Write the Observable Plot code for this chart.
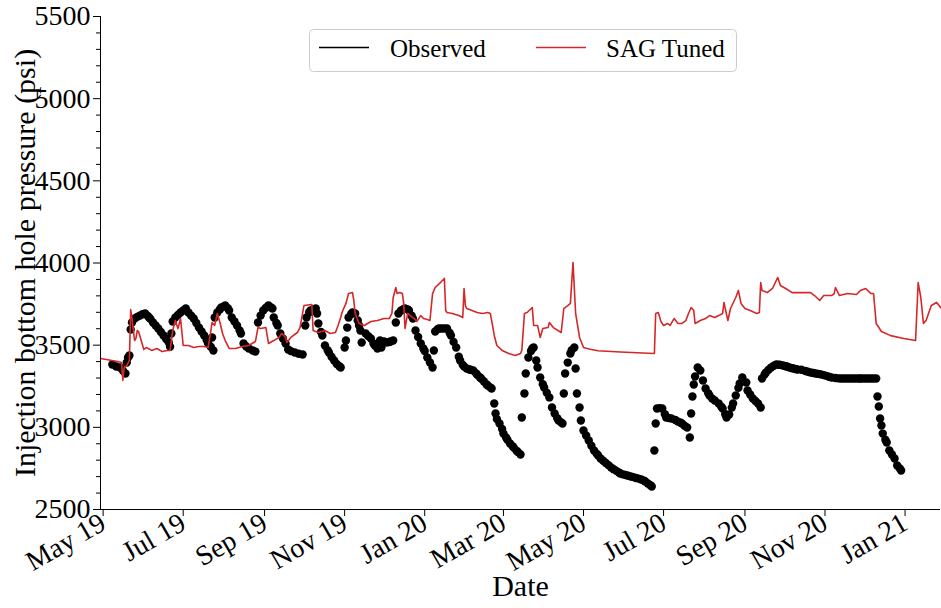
<!DOCTYPE html>
<html>
<head>
<meta charset="utf-8">
<script src="https://cdn.jsdelivr.net/npm/d3@7"></script>
<script src="https://cdn.jsdelivr.net/npm/@observablehq/plot@0.6"></script>
<style>
  body { margin: 0; background: #fff; }
  #chart { position: relative; width: 941px; height: 608px; font-family: "Liberation Serif", "Times New Roman", serif; }
  #legend { position: absolute; left: 309px; top: 29px; }
</style>
</head>
<body>
<div id="chart"></div>
<script>
// Days are counted from 1 May 2019; pressures in psi.
const day0 = Date.UTC(2019, 4, 1);

// Observed injection bottom hole pressure: [day, psi]
const observedReadings = [
  [7,3382],[10,3370],[13,3364],[15,3346],[17,3328],[18,3394],[19,3425],[20,3437],
  [21,3595],[22,3638],[24,3662],[26,3672],[28,3680],[30,3688],[32,3693],[34,3678],[35,3668],[36,3660],[38,3638],[40,3620],[42,3601],[44,3580],[46,3559],[48,3538],[50,3516],[51,3490],
  [52,3571],[53,3644],[55,3668],[57,3684],[59,3699],[61,3711],[63,3723],[65,3699],[67,3680],[69,3662],[71,3635],[73,3607],[75,3583],[77,3559],[79,3530],[80,3510],[82,3490],[83,3547],[84,3468],
  [85,3668],[87,3699],[89,3718],[90,3729],[92,3736],[93,3741],[95,3725],[96,3711],[98,3668],[100,3645],[102,3620],[104,3590],[105,3571],[107,3510],[109,3492],[111,3480],[114,3468],[116,3461],
  [118,3638],[120,3680],[122,3711],[124,3728],[126,3741],[128,3730],[129,3723],[130,3668],[132,3635],[133,3620],[135,3571],[137,3540],[139,3510],[141,3474],[143,3464],[146,3455],[149,3448],[152,3443],
  [154,3620],[155,3668],[157,3700],[158,3711],[160,3718],[162,3723],[163,3693],[164,3632],[166,3580],[167,3559],[169,3498],[171,3470],[172,3455],[174,3430],[176,3407],[178,3385],[180,3372],[181,3364],
  [184,3486],[185,3528],[186,3607],[187,3668],[189,3690],[190,3699],[192,3693],[194,3650],[195,3620],[196,3589],[197,3516],[200,3571],[202,3555],[204,3541],[206,3510],[207,3498],[209,3480],[211,3528],[212,3486],[214,3522],[216,3516],[218,3519],[219,3522],[221,3528],
  [223,3638],[225,3693],[227,3711],[229,3720],[230,3723],[232,3718],[233,3711],[235,3680],[236,3662],[238,3589],[240,3550],[242,3510],[244,3480],[245,3465],[247,3425],[249,3395],[251,3364],
  [252,3468],[253,3583],[255,3598],[256,3601],[258,3601],[260,3601],[262,3601],[264,3575],[265,3559],[267,3520],[269,3486],[271,3430],[272,3407],[274,3380],[275,3370],[277,3358],[279,3352],[280,3350],[282,3346],
  [284,3330],[285,3320],[287,3305],[288,3297],[290,3280],[292,3262],[293,3255],[295,3243],[296,3236],
  [298,3145],[299,3084],[300,3050],[302,3023],[304,2990],[305,2962],[307,2938],[308,2925],[310,2902],[312,2885],[313,2875],[315,2858],[316,2850],[318,2835],
  [319,3060],[321,3206],[322,3328],[324,3425],[326,3465],[327,3480],[328,3486],[330,3407],[331,3364],[333,3303],[335,3262],[336,3242],[338,3210],[340,3182],[342,3121],[344,3084],[346,3055],[347,3042],[349,3030],[350,3023],
  [351,3206],[352,3328],[354,3394],[356,3449],[357,3470],[359,3486],[360,3358],[361,3206],[363,3121],[364,3042],[366,2981],[368,2950],[370,2920],[372,2888],[374,2859],[376,2840],[377,2830],[379,2810],
  [381,2797],[383,2783],[385,2770],[387,2756],[389,2745],[391,2735],[393,2725],[394,2719],[396,2714],[398,2710],[400,2705],[402,2701],[404,2697],[406,2692],[408,2688],[410,2683],[412,2676],[413,2670],[415,2658],[417,2648],[418,2640],
  [420,2859],[421,3023],[422,3115],[424,3117],[426,3115],[428,3080],[429,3060],[431,3057],[433,3054],[436,3045],[438,3035],[440,3028],[441,3023],[443,3010],[445,2999],[447,2938],
  [448,3084],[449,3188],[450,3261],[451,3309],[453,3364],[455,3346],[457,3285],[459,3236],[461,3208],[462,3194],[464,3175],[466,3163],[469,3145],[471,3125],[472,3115],[474,3080],[475,3060],
  [477,3078],[479,3120],[480,3145],[482,3194],[484,3240],[485,3267],[487,3303],[490,3273],[491,3224],[493,3200],[495,3176],[497,3160],[499,3145],[501,3121],
  [502,3297],[504,3322],[505,3334],[507,3350],[509,3364],[511,3375],[513,3382],[515,3381],[516,3380],[518,3376],[520,3372],[521,3370],[523,3364],[525,3360],[526,3358],[528,3354],[529,3352],
  [532,3350],[535,3343],[537,3338],[539,3334],[541,3331],[543,3328],[545,3325],[547,3322],[549,3318],[551,3313],[553,3308],[555,3303],[558,3300],[560,3298],
  [562,3297],[564,3297],[566,3297],[568,3297],[570,3297],[572,3297],[574,3297],[576,3297],[577,3297],[579,3297],[581,3297],[583,3297],[585,3297],[587,3297],[589,3297],
  [590,3188],[591,3127],[592,3054],[593,3011],[594,2962],[596,2925],[597,2908],[599,2859],[601,2835],[603,2810],[605,2768],[607,2750],[608,2737]
];

// SAG tuned model response: [day, psi]
const sagTunedReadings = [
  [-2,3419],[11,3401],[14,3394],[15,3285],[16,3364],[18,3376],[20,3407],[21,3717],[22,3662],[24,3528],[25,3541],[26,3589],[27,3583],[29,3528],[31,3474],[33,3486],
  [37,3468],[41,3480],[45,3461],[49,3468],[51,3468],[53,3589],[55,3650],[57,3601],[59,3662],[61,3498],[65,3498],[69,3486],[73,3492],[77,3492],[80,3486],
  [82,3583],[83,3638],[85,3620],[87,3693],[89,3638],[91,3571],[93,3528],[96,3480],[101,3480],[106,3492],[111,3498],[116,3522],[118,3607],[120,3601],[124,3607],
  [126,3510],[130,3528],[134,3547],[136,3571],[139,3547],[140,3516],[143,3547],[148,3577],[150,3607],[153,3741],[159,3747],[160,3589],[164,3577],[169,3589],
  [173,3571],[177,3577],[179,3620],[181,3668],[182,3699],[185,3754],[187,3814],[190,3820],[191,3772],[192,3693],[195,3632],[199,3620],[204,3644],[209,3650],
  [214,3662],[218,3662],[220,3693],[221,3790],[223,3851],[224,3814],[226,3820],[228,3814],[229,3754],[230,3601],[232,3693],[234,3680],[237,3662],[239,3644],
  [242,3680],[244,3662],[247,3656],[249,3650],[251,3814],[253,3851],[257,3881],[260,3906],[261,3711],[262,3699],[266,3693],[271,3680],[274,3668],[275,3845],
  [276,3741],[277,3723],[281,3711],[285,3699],[289,3693],[293,3699],[295,3693],[297,3607],[298,3559],[300,3498],[304,3468],[309,3449],[314,3437],[318,3449],
  [319,3468],[321,3693],[323,3699],[327,3729],[328,3620],[331,3620],[333,3547],[335,3601],[339,3607],[340,3638],[343,3607],[349,3577],[351,3723],[354,3741],
  [356,3754],[358,4003],[360,3693],[363,3547],[366,3486],[371,3475],[377,3466],[394,3458],[420,3449],
  [421,3693],[423,3699],[425,3644],[427,3620],[430,3632],[432,3620],[435,3662],[438,3632],[441,3632],[444,3650],[446,3693],[448,3729],[450,3711],[451,3632],
  [455,3650],[459,3662],[462,3680],[466,3668],[469,3680],[472,3693],[473,3760],[476,3650],[478,3723],[482,3790],[484,3833],[486,3754],[489,3723],[493,3711],
  [498,3693],[500,3699],[501,3881],[502,3833],[506,3820],[510,3845],[514,3912],[516,3863],[520,3845],[525,3820],[532,3820],[539,3820],[542,3802],[546,3772],
  [549,3802],[555,3802],[557,3814],[558,3851],[561,3802],[567,3814],[574,3808],[577,3833],[581,3845],[585,3814],[587,3814],[589,3632],[593,3583],[600,3558],
  [610,3541],[619,3528],[621,3881],[623,3790],[625,3632],[627,3650],[631,3741],[635,3760],[637,3741],[638,3729]
];

// Axis ticks
const xTickDates = ["2019-05-01","2019-07-01","2019-09-01","2019-11-01","2020-01-01","2020-03-01","2020-05-01","2020-07-01","2020-09-01","2020-11-01","2021-01-01"];
const yTicks = [2500, 3000, 3500, 4000, 4500, 5000, 5500];
const yMinorTicks = d3.range(2600, 5500, 100).filter(v => v % 500 !== 0);

const toDate = d => new Date(day0 + d * 864e5);
const observed = observedReadings.map(([d, v]) => ({date: toDate(d), psi: v}));
const sagTuned = sagTunedReadings.map(([d, v]) => ({date: toDate(d), psi: v}));
const xDomain = [toDate(-2), toDate(638)];
const xTicks = xTickDates.map(s => new Date(s + "T00:00:00Z"));

const font = '"Liberation Serif", "Times New Roman", serif';

const chart = Plot.plot({
  width: 941,
  height: 608,
  marginLeft: 100,
  marginRight: 1,
  marginTop: 16,
  marginBottom: 99,
  style: {fontFamily: font, fontSize: "28px", color: "#000", background: "#fff", overflow: "visible"},
  x: {type: "utc", domain: xDomain},
  y: {domain: [2500, 5500]},
  marks: [
    Plot.dot(observed, {x: "date", y: "psi", r: 4.2, fill: "#000", stroke: "none"}),
    Plot.line(sagTuned, {x: "date", y: "psi", stroke: "#d62728", strokeWidth: 1.6}),
    Plot.ruleX([xDomain[0]], {stroke: "#000", strokeWidth: 1}),
    Plot.ruleY([2500], {stroke: "#000", strokeWidth: 1}),
    Plot.axisY(yMinorTicks, {tickSize: 4, text: null, label: null, stroke: "#000"}),
    Plot.axisY(yTicks, {tickSize: 7, tickPadding: 3, tickFormat: d => String(d), label: null, fontSize: 28, stroke: "#000"}),
    Plot.axisX(xTicks, {tickSize: 7, tickPadding: 4, tickRotate: -30, tickFormat: d3.utcFormat("%b %y"), label: null, fontSize: 28, stroke: "#000"}),
    Plot.text(["Injection bottom hole pressure (psi)"], {frameAnchor: "left", textAnchor: "middle", dx: -75, rotate: -90, fontSize: 30, fill: "#000"}),
    Plot.text(["Date"], {frameAnchor: "bottom", dy: 86, fontSize: 30, fill: "#000"})
  ]
});

const host = document.getElementById("chart");
host.appendChild(chart);

// Legend box inside the plot area
const legend = document.createElement("div");
legend.id = "legend";
legend.innerHTML = `
<svg width="428" height="44" style="font-family:${font.replace(/"/g, "'")}">
  <rect x="0.5" y="0.5" width="427" height="42" rx="4" ry="4" fill="rgba(255,255,255,0.8)" stroke="#cccccc" stroke-width="1"/>
  <line x1="10" x2="60" y1="18.5" y2="18.5" stroke="#000" stroke-width="1.6"/>
  <text x="81" y="28" font-size="25" fill="#000">Observed</text>
  <line x1="227" x2="277" y1="18.5" y2="18.5" stroke="#d62728" stroke-width="1.6"/>
  <text x="297" y="28" font-size="25" fill="#000">SAG Tuned</text>
</svg>`;
host.appendChild(legend);
</script>
</body>
</html>
